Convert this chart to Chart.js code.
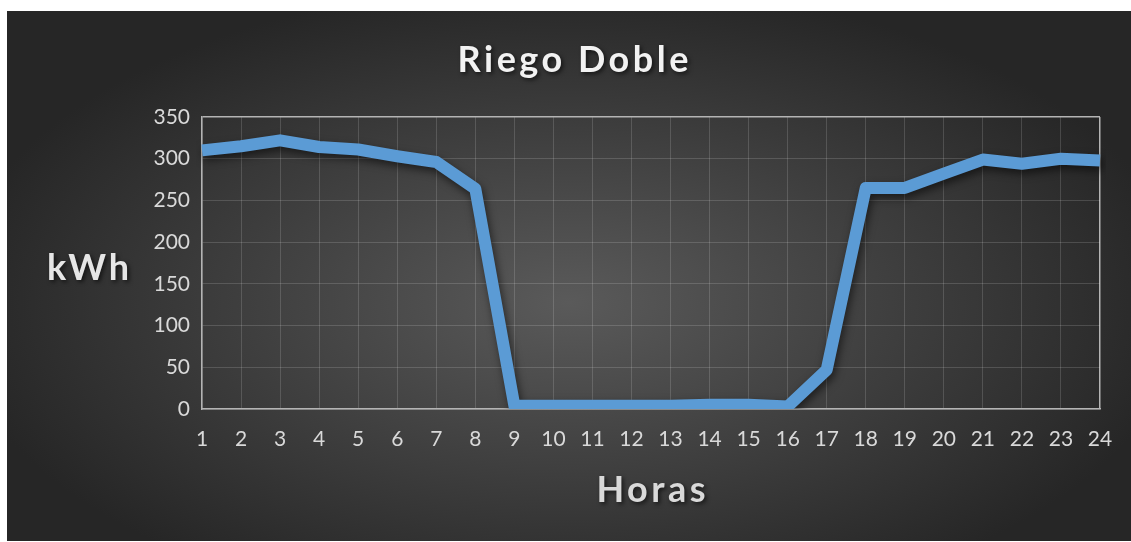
<!DOCTYPE html>
<html lang="es">
<head>
<meta charset="utf-8">
<title>Riego Doble</title>
<script src="https://cdn.jsdelivr.net/npm/chart.js@4/dist/chart.umd.min.js"></script>
<style>
  html, body { margin: 0; padding: 0; background: #fff; }
  #marco {
    position: absolute; left: 7px; top: 11px; width: 1124px; height: 530px;
    background: radial-gradient(ellipse farthest-corner at 50% 55%, #5a5a5a 0%, #3c3c3c 45%, #262626 78%);
  }
  #grafico { display: block; }
</style>
</head>
<body>
<div id="marco"><canvas id="grafico" width="1124" height="530"></canvas></div>
<script>
// Datos
const horas = ['1','2','3','4','5','6','7','8','9','10','11','12','13','14','15','16','17','18','19','20','21','22','23','24'];
const consumo = [310, 315, 322, 314, 311, 303, 296, 264, 4, 4, 4, 4, 4, 5, 5, 3, 47, 265, 265, 282, 299, 294, 300, 298];
const yMin = 0, yMax = 350, yPaso = 50;

const titulo = 'Riego Doble';
const tituloY = 'kWh';
const tituloX = 'Horas';

const gris = 'rgba(255,255,255,0.15)';
const borde = '#b4b4b4';

// textos con sombra y espaciado (estilo Excel)
function texto(ctx, txt, x, y, size, color, spacing) {
  ctx.save();
  ctx.font = `bold ${size}px Lato`;
  ctx.letterSpacing = spacing + 'px';
  ctx.fillStyle = color;
  ctx.textAlign = 'center';
  ctx.textBaseline = 'middle';
  ctx.shadowColor = 'rgba(0,0,0,0.6)';
  ctx.shadowBlur = 4;
  ctx.shadowOffsetX = 2;
  ctx.shadowOffsetY = 2;
  ctx.fillText(txt, x + spacing / 2, y);
  ctx.restore();
}

const rotulos = {
  id: 'rotulos',
  afterDraw(chart) {
    const { ctx, chartArea } = chart;
    const cx = (chartArea.left + chartArea.right) / 2;
    texto(ctx, titulo, 566, 49, 36, '#f2f2f2', 3.5);
    texto(ctx, tituloY, 81, (chartArea.top + chartArea.bottom) / 2 + 5, 36, '#e6e6e6', 3);
    texto(ctx, tituloX, cx, 479, 36, '#d9d9d9', 3.5);
  }
};

const sombraLinea = {
  id: 'sombraLinea',
  beforeDatasetsDraw(chart) {
    const ctx = chart.ctx;
    ctx.save();
    ctx.shadowColor = 'rgba(0,0,0,0.55)';
    ctx.shadowBlur = 8;
    ctx.shadowOffsetX = 2;
    ctx.shadowOffsetY = 4;
  },
  afterDatasetsDraw(chart) {
    chart.ctx.restore();
  }
};

new Chart(document.getElementById('grafico').getContext('2d'), {
  type: 'line',
  data: {
    labels: horas,
    datasets: [{
      label: tituloY,
      data: consumo,
      borderColor: '#5b9bd5',
      borderWidth: 12,
      borderJoinStyle: 'round',
      pointRadius: 0,
      tension: 0,
      fill: false
    }]
  },
  options: {
    responsive: false,
    animation: false,
    layout: { padding: { top: 106, right: 31, left: 0, bottom: 0 } },
    plugins: {
      legend: { display: false },
      title: { display: false },
      tooltip: { enabled: false }
    },
    scales: {
      x: {
        offset: false,
        grid: {
          color: c => c.index === horas.length - 1 ? borde : gris,
          lineWidth: c => c.index === horas.length - 1 ? 1.5 : 1,
          drawTicks: false
        },
        border: { color: borde, width: 1.5 },
        ticks: { color: '#d9d9d9', font: { family: 'Lato', size: 21 }, padding: 18, maxRotation: 0, autoSkip: false },
        afterFit: s => { s.height = 132; }
      },
      y: {
        min: yMin,
        max: yMax,
        grid: {
          color: c => c.tick && c.tick.value === yMax ? borde : gris,
          lineWidth: c => c.tick && c.tick.value === yMax ? 1.5 : 1,
          drawTicks: false
        },
        border: { color: borde, width: 1.5 },
        ticks: { stepSize: yPaso, color: '#d9d9d9', font: { family: 'Lato', size: 21 }, padding: 12 },
        afterFit: s => { s.width = 195; }
      }
    }
  },
  plugins: [sombraLinea, rotulos]
});
</script>
</body>
</html>
